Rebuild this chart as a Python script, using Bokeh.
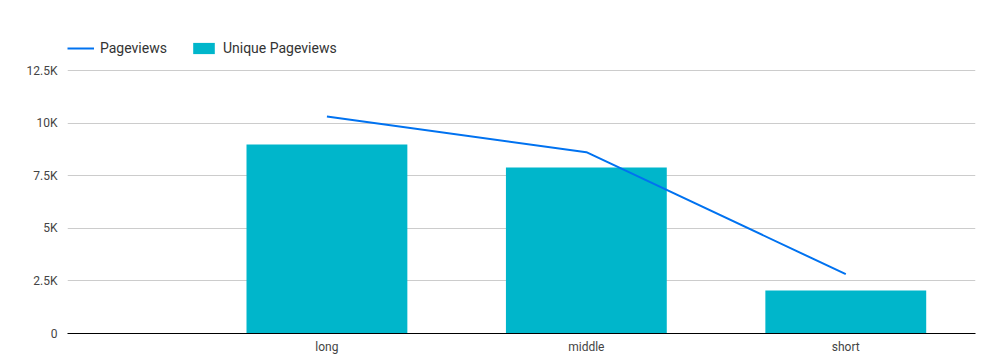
from bokeh.plotting import figure
from bokeh.models import ColumnDataSource, Range1d, FixedTicker, Legend, LegendItem
from bokeh.embed import file_html
from bokeh.resources import INLINE

categories = ["long", "middle", "short"]
pageviews = [10310, 8620, 2820]
unique_pageviews = [8980, 7890, 2040]
y_ticks = [0, 2500, 5000, 7500, 10000, 12500]
y_tick_labels = ["0", "2.5K", "5K", "7.5K", "10K", "12.5K"]

xs = list(range(len(categories)))
src = ColumnDataSource(dict(x=xs, cat=categories, pv=pageviews, upv=unique_pageviews))

p = figure(width=996, height=358, output_backend="svg", toolbar_location=None,
           x_range=Range1d(-1, len(categories) - 0.5), y_range=Range1d(0, 14877),
           min_border_left=67, min_border_right=21, min_border_top=20, min_border_bottom=25)
p.outline_line_color = None

bars = p.vbar(x="x", top="upv", width=0.62, source=src, color="#00b6cb", line_color=None)
line = p.line(x="x", y="pv", source=src, line_color="#0072f0", line_width=2)

p.xaxis.ticker = FixedTicker(ticks=xs)
p.xaxis.major_label_overrides = {i: c for i, c in zip(xs, categories)}
p.xaxis.major_tick_line_color = None
p.xaxis.minor_tick_line_color = None
p.xaxis.major_tick_out = 0
p.xaxis.axis_line_color = "#000000"
p.xaxis.major_label_standoff = 6
p.xaxis.major_label_text_font = "Roboto"
p.xaxis.major_label_text_font_size = "12px"
p.xaxis.major_label_text_color = "#444444"

p.yaxis.ticker = FixedTicker(ticks=y_ticks)
p.yaxis.major_label_overrides = {t: l for t, l in zip(y_ticks, y_tick_labels)}
p.yaxis.axis_line_color = None
p.yaxis.major_tick_line_color = None
p.yaxis.minor_tick_line_color = None
p.yaxis.major_tick_out = 0
p.yaxis.major_label_standoff = 10
p.yaxis.major_label_text_font = "Roboto"
p.yaxis.major_label_text_font_size = "12px"
p.yaxis.major_label_text_color = "#444444"

p.xgrid.grid_line_color = None
p.ygrid.grid_line_color = "#cccccc"
p.ygrid.ticker = FixedTicker(ticks=y_ticks)

legend = Legend(items=[LegendItem(label="Pageviews", renderers=[line]),
                       LegendItem(label="Unique Pageviews", renderers=[bars])],
                orientation="horizontal", location=(0, 277),
                padding=0, margin=0, spacing=23, glyph_width=27, glyph_height=14,
                label_standoff=6, label_text_font="Roboto", label_text_font_size="14px",
                label_text_color="#333333", border_line_color=None, background_fill_alpha=0)
p.add_layout(legend, "center")

open("out.html", "w").write(file_html(p, INLINE))
